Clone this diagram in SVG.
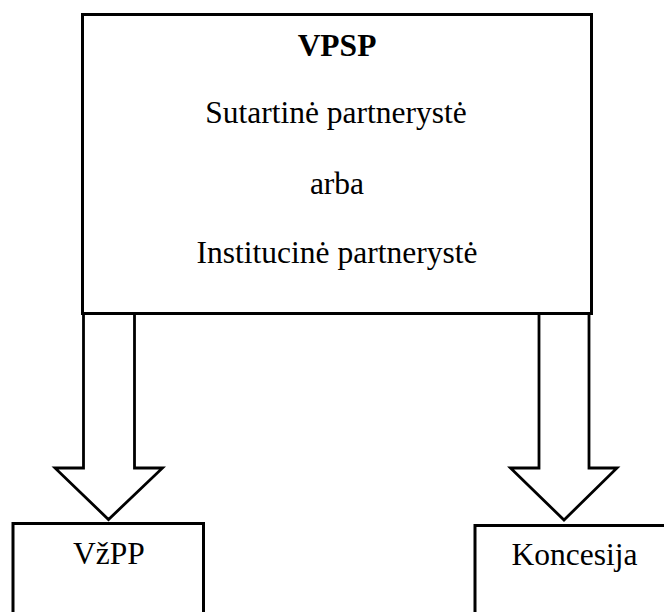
<svg xmlns="http://www.w3.org/2000/svg" width="664" height="612" viewBox="0 0 664 612">
<style>
.box{fill:#fff;stroke:#000;stroke-width:3}
.arr{fill:#fff;stroke:#000;stroke-width:2.8;stroke-linejoin:miter}
.t{font-family:'Liberation Serif','Times New Roman','DejaVu Serif',serif;font-size:31.5px;fill:#000;text-anchor:middle}
.b{font-weight:bold}
</style>
<rect width="664" height="612" fill="#fff"/>
<g id="vpsp">
<rect class="box" x="82.5" y="14.5" width="509" height="299"/>
<text class="t b" x="337" y="56">VPSP</text>
<text class="t" x="336" y="123">Sutartinė partnerystė</text>
<text class="t" x="337" y="194">arba</text>
<text class="t" x="337" y="263">Institucinė partnerystė</text>
</g>
<g id="connectors">
<polygon class="arr" points="83.5,313.5 83.5,468 55,468 108.5,519.5 162.5,468 134.5,468 134.5,313.5"/>
<polygon class="arr" points="539,313.5 539,468 510.5,468 564,520 617,468 589,468 589,313.5"/>
</g>
<g id="vzpp">
<rect class="box" x="13" y="523.5" width="190.5" height="120"/>
<text class="t" x="109" y="564">VžPP</text>
</g>
<g id="koncesija">
<rect class="box" x="475" y="525.5" width="220" height="120"/>
<text class="t" x="574.5" y="565">Koncesija</text>
</g>
</svg>
